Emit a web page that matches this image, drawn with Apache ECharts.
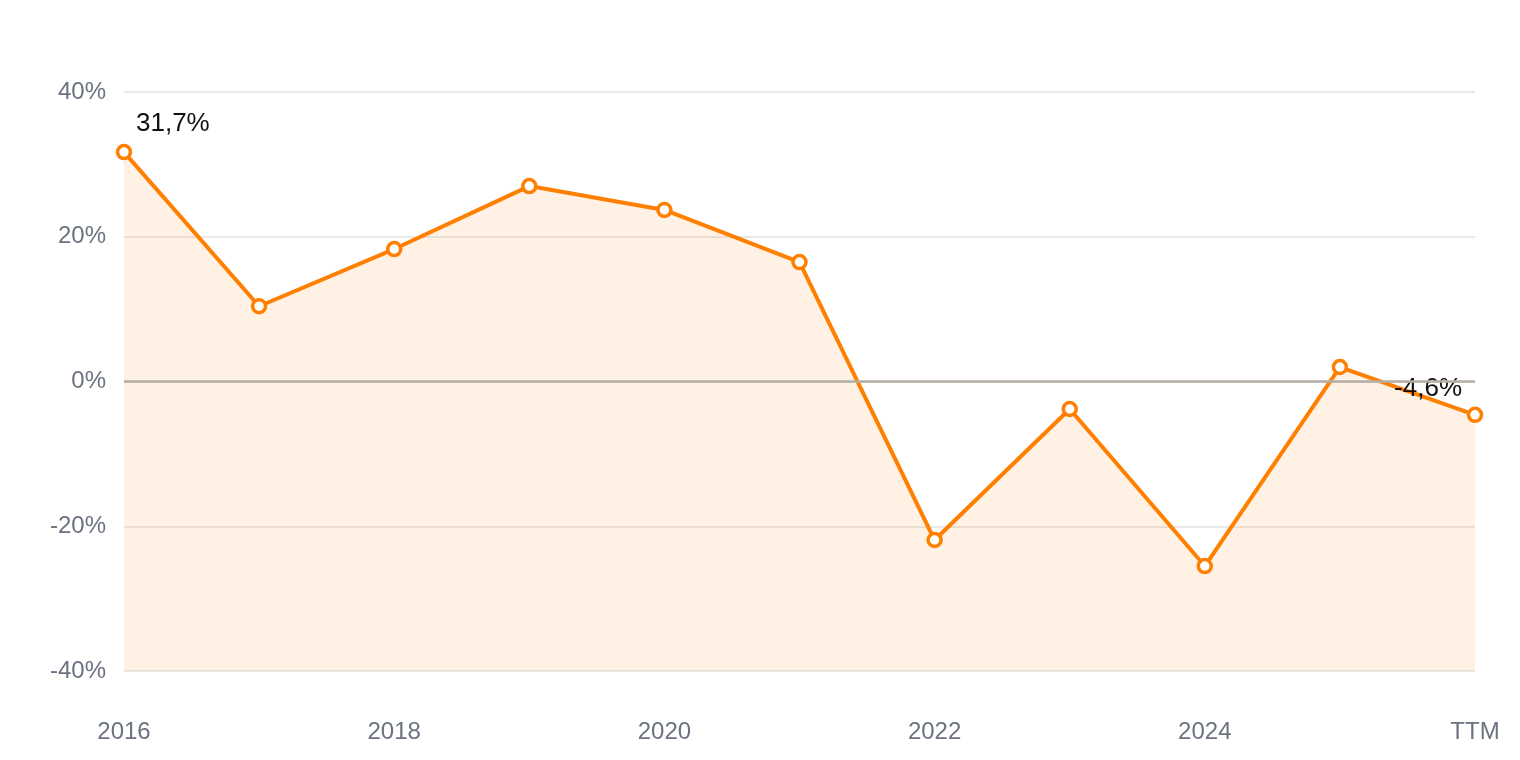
<!DOCTYPE html>
<html><head><meta charset="utf-8">
<script src="https://cdn.jsdelivr.net/npm/echarts@6/dist/echarts.min.js"></script>
<style>html,body{margin:0;padding:0;background:#fff}#c{width:1520px;height:760px}</style>
</head><body><div id="c"></div>
<script>
const categories = ['2016','2017','2018','2019','2020','2021','2022','2023','2024','2025','TTM'];
const values = [31.7, 10.4, 18.3, 27.0, 23.7, 16.5, -21.9, -3.8, -25.5, 2.0, -4.6];
const yTicks = [-40, -20, 0, 20, 40];

const fmt = v => v.toFixed(1).replace('.', ',') + '%';
const last = values.length - 1;
const data = values.map((v, i) => {
  if (i === 0) return {value: v, label: {show: true, position: 'top', align: 'left', offset: [12, -2], formatter: () => fmt(v)}};
  if (i === last) return {value: v, label: {show: true, position: 'top', align: 'right', offset: [-13, 0], formatter: () => fmt(v)}};
  return v;
});

const chart = echarts.init(document.getElementById('c'));
chart.setOption({
  animation: false,
  grid: {left: 124, right: 45, top: 92, bottom: 89, containLabel: false},
  xAxis: {
    type: 'category', data: categories, boundaryGap: false,
    axisLine: {show: false}, axisTick: {show: false},
    axisLabel: {interval: 1, color: '#6b7280', fontSize: 24, margin: 49, fontFamily: 'Liberation Sans, Arial, sans-serif'}
  },
  yAxis: {
    type: 'value', min: yTicks[0], max: yTicks[yTicks.length-1], interval: 20,
    axisLine: {show: false}, axisTick: {show: false},
    axisLabel: {color: '#6b7280', fontSize: 24, margin: 18, formatter: v => v + '%', fontFamily: 'Liberation Sans, Arial, sans-serif'},
    splitLine: {lineStyle: {color: '#e2e2e2', width: 1.5}}
  },
  series: [{
    type: 'line', data: data,
    lineStyle: {color: '#ff7f00', width: 4},
    itemStyle: {color: '#ffffff', borderWidth: 3.5, borderColor: '#ff7f00'},
    symbol: 'circle', symbolSize: 13, showAllSymbol: true,
    areaStyle: {color: 'rgba(255,127,0,0.1)', origin: 'start', opacity: 1},
    label: {show: false, color: '#111', fontSize: 26, fontFamily: 'Liberation Sans, Arial, sans-serif'},
    markLine: {silent: true, symbol: 'none', label: {show: false},
      lineStyle: {color: '#b5aea6', width: 2.5, type: 'solid'}, data: [{yAxis: 0}]},
    z: 3
  }]
});
</script></body></html>
